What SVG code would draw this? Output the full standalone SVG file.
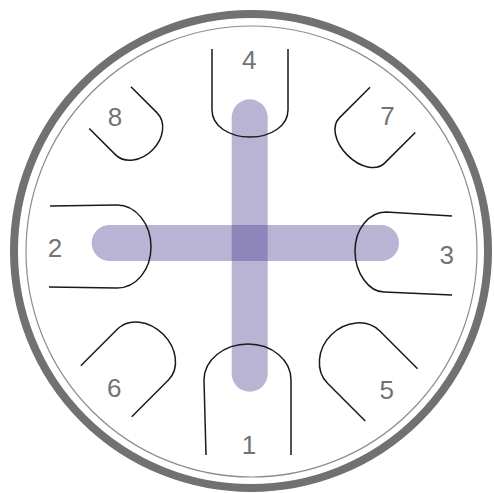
<svg xmlns="http://www.w3.org/2000/svg" width="494" height="493" viewBox="0 0 494 493">
<style>
.pin{fill:none;stroke:#1a1a1a;stroke-width:1.5}
.lbl{font-family:"Liberation Sans",Arial,sans-serif;font-size:26px;fill:#737373;text-anchor:middle}
.bar{stroke:#4a3f90;stroke-opacity:0.39;stroke-width:36;stroke-linecap:round;fill:none}
</style>
<rect width="494" height="493" fill="#ffffff"/>
<g id="housing">
<circle cx="251" cy="251" r="237" fill="none" stroke="#717172" stroke-width="8"/>
<circle cx="251.5" cy="251.5" r="225.5" fill="none" stroke="#8c8c8c" stroke-width="1.2"/>
</g>
<g id="connectors">
<line class="bar" x1="249.7" y1="117.3" x2="249.7" y2="373.7"/>
<line class="bar" x1="109.7" y1="243" x2="381" y2="243"/>
</g>
<g id="pin1">
<path class="pin" d="M206,455 L204,380 C204,360 224,344 248,344 C272,344 291,360 291,380 L291,455"/>
<text class="lbl" x="249" y="454">1</text>
</g>
<g id="pin2">
<path class="pin" d="M50,206 L117,205 C136,205 151,224 151,247 C151,270 136,288 117,288 L49,287"/>
<text class="lbl" x="55" y="256.5">2</text>
</g>
<g id="pin3">
<path class="pin" d="M452,216 L386,212 C369,212 355,229 355,251 C355,273 369,292 384,292 L452,295"/>
<text class="lbl" x="446.7" y="264">3</text>
</g>
<g id="pin4">
<path class="pin" d="M212,49 L212,110 C212,126 229,137 250,137 C271,137 288,126 288,110 L288,49"/>
<text class="lbl" x="249.2" y="69">4</text>
</g>
<g id="pin5">
<path class="pin" transform="translate(331.3,334.8) rotate(-135)" d="M-85,-37 L-32,-37 C-14,-37 0,-20 0,0 C0,20 -14,37 -32,37 L-85,37"/>
<text class="lbl" x="386.8" y="399.3">5</text>
</g>
<g id="pin6">
<path class="pin" transform="translate(163.2,334.3) rotate(-45)" d="M-80.5,-36 L-28.6,-36 C-12.8,-36 0,-20 0,0 C0,20 -12.8,36 -28.6,36 L-80.5,36"/>
<text class="lbl" x="114.3" y="397.3">6</text>
</g>
<g id="pin7">
<path class="pin" transform="translate(347.4,155.1) rotate(135)" d="M-64,-32 L-21,-32 C-9,-32 0,-18 0,0 C0,18 -9,32 -21,32 L-64,32"/>
<text class="lbl" x="387.5" y="125.3">7</text>
</g>
<g id="pin8">
<path class="pin" transform="translate(152.5,150) rotate(45)" d="M-60,-29.5 L-23,-29.5 C-10,-29.5 0,-16 0,0 C0,16 -10,29.5 -23,29.5 L-60,29.5"/>
<text class="lbl" x="115" y="125.7">8</text>
</g>
</svg>
